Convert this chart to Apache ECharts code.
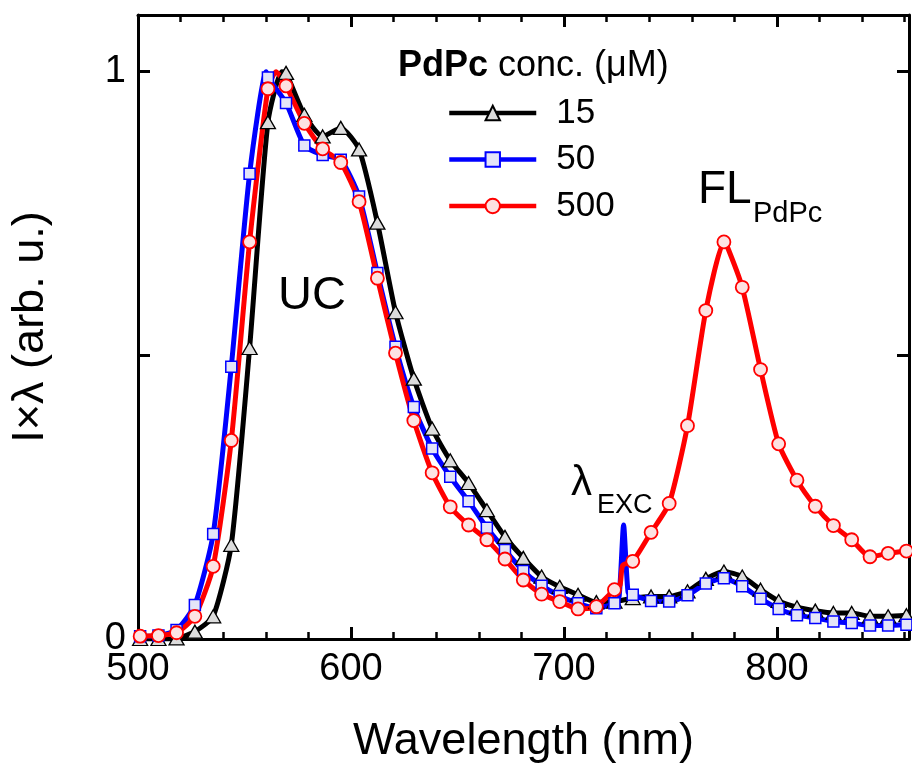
<!DOCTYPE html>
<html>
<head>
<meta charset="utf-8">
<title>UC / FL spectra</title>
<script src="https://cdn.jsdelivr.net/npm/echarts@6/dist/echarts.min.js"></script>
<style>
  html, body { margin: 0; padding: 0; background: #fff; }
  #chart { width: 912px; height: 769px; }
</style>
</head>
<body>
<div id="chart"></div>
<script>
// wavelengths (nm) where the markers sit
const markerWl = [501.0, 509.6, 518.1, 526.7, 535.3, 543.8, 552.4, 561.0, 569.5, 578.1, 586.7, 595.2, 603.8, 612.4, 620.9, 629.5, 638.1, 646.6, 655.2, 663.8, 672.3, 680.9, 689.5, 698.0, 706.6, 715.2, 723.7, 732.3, 740.9, 749.4, 758.0, 766.6, 775.1, 783.7, 792.3, 800.8, 809.4, 818.0, 826.5, 835.1, 843.7, 852.2, 860.8];

// I x lambda (normalised), one value per marker wavelength
const conc15 = [0.0, 0.0, 0.001, 0.013, 0.04, 0.166, 0.513, 0.911, 0.998, 0.924, 0.886, 0.901, 0.863, 0.734, 0.576, 0.459, 0.371, 0.315, 0.275, 0.227, 0.180, 0.143, 0.110, 0.092, 0.078, 0.065, 0.066, 0.072, 0.075, 0.075, 0.084, 0.106, 0.119, 0.110, 0.087, 0.067, 0.056, 0.050, 0.046, 0.046, 0.040, 0.040, 0.042];
const conc50 = [0.005, 0.006, 0.016, 0.06, 0.185, 0.48, 0.82, 0.99, 0.945, 0.87, 0.853, 0.845, 0.78, 0.645, 0.515, 0.409, 0.336, 0.286, 0.243, 0.196, 0.157, 0.12, 0.094, 0.076, 0.063, 0.054, 0.063, 0.078, 0.067, 0.066, 0.077, 0.098, 0.107, 0.093, 0.071, 0.053, 0.042, 0.037, 0.031, 0.028, 0.024, 0.024, 0.025];
const conc500 = [0.005, 0.006, 0.011, 0.04, 0.128, 0.35, 0.70, 0.97, 0.975, 0.909, 0.864, 0.840, 0.771, 0.636, 0.504, 0.385, 0.293, 0.233, 0.201, 0.175, 0.141, 0.104, 0.079, 0.066, 0.053, 0.057, 0.087, 0.137, 0.188, 0.239, 0.376, 0.579, 0.700, 0.620, 0.475, 0.344, 0.280, 0.234, 0.200, 0.175, 0.145, 0.151, 0.155];

// points of the line that carry no marker (peaks, laser line)
const extra15 = [[567.5, 1.0]];
const extra50 = [[560.2, 1.0], [725.9, 0.075], [728.0, 0.201], [730.1, 0.082]];
const extra500 = [[564.8, 1.0], [726.3, 0.095], [727.6, 0.13], [776.0, 0.698]];

const seriesNames = ['15', '50', '500'];
const xTicks = [500, 600, 700, 800];
const yTicks = [0, 1];

const FONT = "'Liberation Sans', Arial, sans-serif";

// merge marker points and plain line points, sorted by wavelength
const buildData = (values, extras) => {
  const pts = markerWl.map((wl, i) => ({ value: [wl, values[i]] }));
  extras.forEach(p => pts.push({ value: p, symbol: 'none' }));
  pts.sort((a, b) => a.value[0] - b.value[0]);
  return pts;
};

const xBase = {
  type: 'value', min: 500, max: 862, gridIndex: 0,
  splitLine: { show: false },
  axisLabel: { show: false },
  axisLine: { onZero: false, lineStyle: { color: '#000', width: 3 } },
};

const majorTick = { inside: true, length: 12, lineStyle: { color: '#000', width: 3 } };
const minorTick = { inside: true, length: 7, lineStyle: { color: '#000', width: 2.5 } };

const option = {
  animation: false,
  grid: { left: 138, top: 15, width: 775, height: 626 },
  legend: {
    data: seriesNames,
    orient: 'vertical',
    left: 447,
    top: 95,
    padding: 0,
    itemWidth: 87,
    itemHeight: 18,
    itemGap: 10.5,
    selectedMode: false,
    lineStyle: { width: 4.5 },
    textStyle: { fontFamily: FONT, fontSize: 35, color: '#000', lineHeight: 36, padding: [0, 0, 0, 15] },
  },
  xAxis: [
    Object.assign({}, xBase, {
      position: 'bottom', interval: 100, axisTick: majorTick,
      axisLabel: {
        show: true, margin: 12, color: '#000', fontFamily: FONT, fontSize: 38,
        formatter: v => (xTicks.indexOf(v) > -1 ? String(v) : ''),
      },
      name: 'Wavelength (nm)', nameLocation: 'middle', nameGap: 80,
      nameTextStyle: { fontFamily: FONT, fontSize: 45, color: '#000' },
    }),
    Object.assign({}, xBase, { position: 'bottom', interval: 20, axisTick: minorTick, axisLine: { show: false, onZero: false } }),
    Object.assign({}, xBase, { position: 'top', interval: 100, axisTick: majorTick }),
    Object.assign({}, xBase, { position: 'top', interval: 20, axisTick: minorTick, axisLine: { show: false, onZero: false } }),
  ],
  yAxis: [
    {
      type: 'value', min: 0, max: 1.1, interval: 0.5, position: 'left',
      splitLine: { show: false },
      axisLine: { onZero: false, lineStyle: { color: '#000', width: 3 } },
      axisTick: majorTick,
      axisLabel: {
        margin: 12, color: '#000', fontFamily: FONT, fontSize: 38,
        formatter: v => (yTicks.indexOf(v) > -1 ? String(v) : ''),
      },
      name: 'I\u00d7\u03bb (arb. u.)', nameLocation: 'middle', nameGap: 85,
      nameTextStyle: { fontFamily: FONT, fontSize: 45, color: '#000' },
    },
    {
      type: 'value', min: 0, max: 1.1, interval: 0.5, position: 'right',
      splitLine: { show: false },
      axisLine: { onZero: false, lineStyle: { color: '#000', width: 3 } },
      axisTick: majorTick,
      axisLabel: { show: false },
    },
  ],
  series: [
    {
      name: seriesNames[0], type: 'line', xAxisIndex: 0, yAxisIndex: 0,
      data: buildData(conc15, extra15),
      smooth: 0.2,
      symbol: 'triangle', symbolSize: [15, 13],
      lineStyle: { color: '#000', width: 5 },
      itemStyle: { color: '#dcdcdc', borderColor: '#000', borderWidth: 1.3 },
    },
    {
      name: seriesNames[1], type: 'line', xAxisIndex: 0, yAxisIndex: 0,
      data: buildData(conc50, extra50),
      smooth: 0.2,
      symbol: 'rect', symbolSize: 11,
      lineStyle: { color: '#0000ff', width: 5 },
      itemStyle: { color: '#e4e4f8', borderColor: '#0000ff', borderWidth: 1.5 },
    },
    {
      name: seriesNames[2], type: 'line', xAxisIndex: 0, yAxisIndex: 0,
      data: buildData(conc500, extra500),
      smooth: 0.2,
      symbol: 'circle', symbolSize: 13,
      lineStyle: { color: '#ff0000', width: 5 },
      itemStyle: { color: '#fde2e2', borderColor: '#ff0000', borderWidth: 1.8 },
    },
  ],
  graphic: [
    {
      type: 'text', x: 398, y: 66,
      style: {
        text: '{b|PdPc}{r| conc. (\u03bcM)}', verticalAlign: 'middle',
        rich: {
          b: { fontFamily: FONT, fontSize: 36, fontWeight: 'bold', fill: '#000' },
          r: { fontFamily: FONT, fontSize: 36, fill: '#000' },
        },
      },
    },
    { type: 'text', x: 278, y: 296, style: { text: 'UC', fontFamily: FONT, fontSize: 47, fill: '#000', verticalAlign: 'middle' } },
    { type: 'text', x: 571, y: 483, style: { text: '\u03bb', fontFamily: FONT, fontSize: 42, fill: '#000', verticalAlign: 'middle' } },
    { type: 'text', x: 597, y: 506, style: { text: 'EXC', fontFamily: FONT, fontSize: 27, fill: '#000', verticalAlign: 'middle' } },
    { type: 'text', x: 698, y: 190, style: { text: 'FL', fontFamily: FONT, fontSize: 46, fill: '#000', verticalAlign: 'middle' } },
    { type: 'text', x: 753, y: 214, style: { text: 'PdPc', fontFamily: FONT, fontSize: 29, fill: '#000', verticalAlign: 'middle' } },
  ],
};

const myChart = echarts.init(document.getElementById('chart'));
myChart.setOption(option);
</script>
</body>
</html>
